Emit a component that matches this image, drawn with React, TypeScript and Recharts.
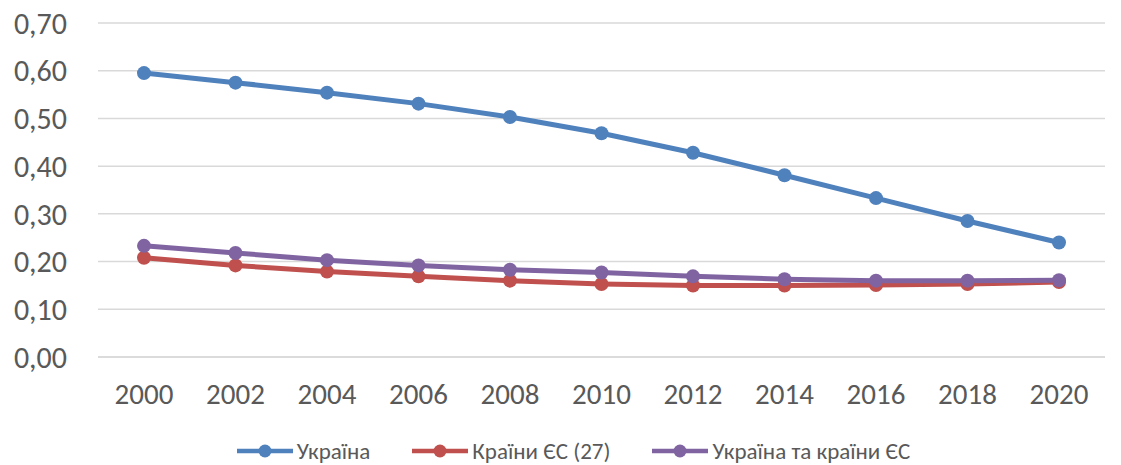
import { LineChart, Line, XAxis, YAxis, CartesianGrid, Legend } from 'recharts';

const years = ['2000', '2002', '2004', '2006', '2008', '2010', '2012', '2014', '2016', '2018', '2020'];
const ukraine = [0.595, 0.575, 0.554, 0.531, 0.503, 0.469, 0.428, 0.381, 0.333, 0.285, 0.24];
const eu27 = [0.208, 0.192, 0.179, 0.169, 0.16, 0.153, 0.15, 0.15, 0.151, 0.153, 0.157];
const ukraineEu = [0.233, 0.218, 0.203, 0.192, 0.183, 0.177, 0.169, 0.163, 0.16, 0.16, 0.161];
const yTicks = [0, 0.1, 0.2, 0.3, 0.4, 0.5, 0.6, 0.7];

const SERIES = [
  { key: 'ukraine', name: 'Україна', color: '#4F81BD' },
  { key: 'eu27', name: 'Країни ЄС (27)', color: '#C0504D' },
  { key: 'ukraineEu', name: 'Україна та країни ЄС', color: '#8064A2' },
];

const data = years.map((year, i) => ({
  year,
  ukraine: ukraine[i],
  eu27: eu27[i],
  ukraineEu: ukraineEu[i],
}));

const FONT = 'Carlito, Calibri, "Open Sans", sans-serif';

function LegendContent() {
  return (
    <div
      style={{
        display: 'flex',
        justifyContent: 'center',
        alignItems: 'center',
        gap: 42,
        height: 40,
        boxSizing: 'border-box',
        paddingTop: 12,
        paddingLeft: 42,
        fontFamily: FONT,
        fontSize: 23,
        color: '#595959',
      }}
    >
      {SERIES.map((s) => (
        <div key={s.key} style={{ display: 'flex', alignItems: 'center' }}>
          <svg width={56} height={16} style={{ marginRight: 4 }}>
            <line x1={0} y1={8} x2={56} y2={8} stroke={s.color} strokeWidth={4.5} />
            <circle cx={28} cy={8} r={6.5} fill={s.color} />
          </svg>
          <span>{s.name}</span>
        </div>
      ))}
    </div>
  );
}

export default function App() {
  return (
    <div style={{ position: 'absolute', left: 0, top: 0, background: '#fff' }}>
      <style>{`body { margin: 0; }`}</style>
      <LineChart width={1121} height={465} data={data} margin={{ top: 23, right: 16, bottom: 0, left: 0 }}>
        <CartesianGrid vertical={false} stroke="#D9D9D9" strokeWidth={1.5} />
        <XAxis
          dataKey="year"
          axisLine={{ stroke: '#D9D9D9', strokeWidth: 1.5 }}
          tickLine={false}
          tickSize={0}
          tickMargin={26}
          height={68}
          padding={{ left: 46, right: 46 }}
          tick={{ fill: '#595959', fontSize: 29, fontFamily: FONT }}
        />
        <YAxis
          domain={[0, 0.7]}
          ticks={yTicks}
          interval={0}
          axisLine={false}
          tickLine={false}
          tickSize={0}
          tickMargin={31}
          width={98}
          tickFormatter={(v: number) => v.toFixed(2).replace('.', ',')}
          tick={{ fill: '#595959', fontSize: 30, fontFamily: FONT }}
        />
        <Legend verticalAlign="bottom" height={40} content={<LegendContent />} />
        {SERIES.map((s) => (
          <Line
            key={s.key}
            dataKey={s.key}
            name={s.name}
            stroke={s.color}
            strokeWidth={5}
            dot={{ r: 7, fill: s.color, stroke: s.color, strokeWidth: 0 }}
            activeDot={false}
            isAnimationActive={false}
          />
        ))}
      </LineChart>
    </div>
  );
}
